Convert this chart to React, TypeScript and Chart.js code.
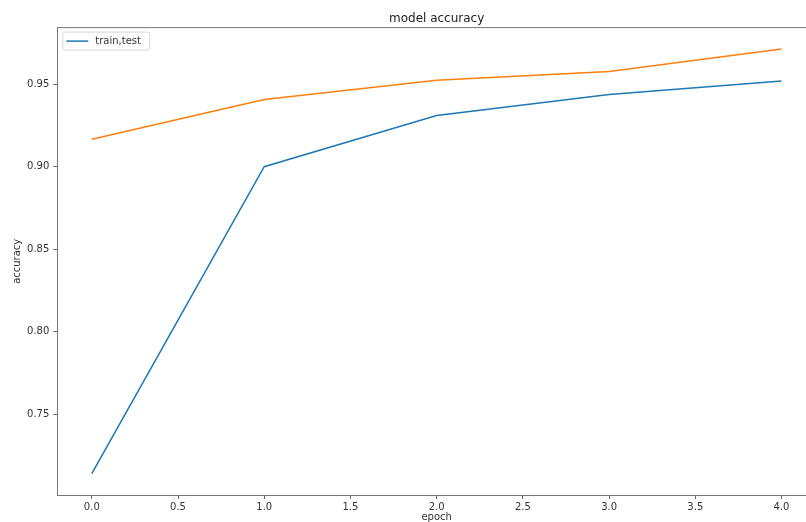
import React, { useEffect, useRef } from "react";
import { Chart, registerables } from "chart.js";

Chart.register(...registerables);

const EPOCHS = [0, 1, 2, 3, 4];
const TRAIN_ACC = [0.714, 0.9, 0.931, 0.9437, 0.952];
const TEST_ACC = [0.9166, 0.9407, 0.9524, 0.9577, 0.9714];
const X_TICKS = [0, 0.5, 1, 1.5, 2, 2.5, 3, 3.5, 4];
const Y_TICKS = [0.75, 0.8, 0.85, 0.9, 0.95];
const TITLE = "model accuracy";
const X_LABEL = "epoch";
const Y_LABEL = "accuracy";
const LEGEND_LABEL = "train,test";

const FONT = "'DejaVu Sans', sans-serif";

export default function App() {
  const ref = useRef<HTMLCanvasElement | null>(null);

  useEffect(() => {
    if (!ref.current) return;

    const framePlugin = {
      id: "frame",
      afterDatasetsDraw(chart: any) {
        const { ctx, chartArea } = chart;
        ctx.save();
        ctx.strokeStyle = "#777";
        ctx.lineWidth = 1;
        ctx.beginPath();
        ctx.moveTo(chartArea.left, chartArea.top);
        ctx.lineTo(chartArea.right, chartArea.top);
        ctx.lineTo(chartArea.right, chartArea.bottom);
        ctx.stroke();

        // legend (matplotlib style, only first entry)
        const ds = chart.data.datasets[0];
        const bx = chartArea.left + 5;
        const by = chartArea.top + 4;
        const bw = 87;
        const bh = 18;
        ctx.fillStyle = "rgba(255,255,255,0.8)";
        ctx.strokeStyle = "#d6d6d6";
        ctx.lineWidth = 1;
        ctx.beginPath();
        (ctx as any).roundRect(bx + 0.5, by + 0.5, bw, bh, 2);
        ctx.fill();
        ctx.stroke();
        const cy = by + bh / 2 + 0.5;
        ctx.strokeStyle = ds.borderColor;
        ctx.lineWidth = 1.5;
        ctx.beginPath();
        ctx.moveTo(bx + 4, cy);
        ctx.lineTo(bx + 26, cy);
        ctx.stroke();
        ctx.fillStyle = "#333";
        ctx.font = `10px ${FONT}`;
        ctx.textBaseline = "middle";
        ctx.textAlign = "left";
        ctx.fillText(ds.label, bx + 33, cy);
        ctx.restore();
      },
    };

    const chart = new Chart(ref.current, {
      type: "line",
      data: {
        labels: EPOCHS,
        datasets: [
          {
            label: LEGEND_LABEL,
            data: EPOCHS.map((x, i) => ({ x, y: TRAIN_ACC[i] })),
            borderColor: "#1f77b4",
            borderWidth: 1.5,
            pointRadius: 0,
            tension: 0,
            fill: false,
          },
          {
            label: "",
            data: EPOCHS.map((x, i) => ({ x, y: TEST_ACC[i] })),
            borderColor: "#ff7f0e",
            borderWidth: 1.5,
            pointRadius: 0,
            tension: 0,
            fill: false,
          },
        ],
      },
      options: {
        animation: false,
        responsive: false,
        devicePixelRatio: 1,
        layout: { padding: { left: 0, right: 4, top: 0, bottom: 0 } },
        plugins: {
          legend: { display: false },
          tooltip: { enabled: false },
          title: {
            display: true,
            text: TITLE,
            fullSize: false,
            color: "#222",
            font: { family: FONT, size: 12, weight: "normal" },
            padding: { top: 12, bottom: 1.2 },
          },
        },
        scales: {
          x: {
            type: "linear",
            min: -0.2,
            max: 4.2,
            afterBuildTicks: (s: any) => {
              s.ticks = X_TICKS.map((v) => ({ value: v }));
            },
            afterFit: (s: any) => {
              s.height = 35;
            },
            grid: {
              display: true,
              drawOnChartArea: false,
              drawTicks: true,
              tickLength: 4,
              color: "#666",
            },
            border: { display: true, color: "#777", width: 1 },
            ticks: {
              color: "#333",
              font: { family: FONT, size: 10 },
              padding: 2,
              maxRotation: 0,
              autoSkip: false,
              callback: (v: any) => Number(v).toFixed(1),
            },
            title: {
              display: true,
              text: X_LABEL,
              color: "#333",
              font: { family: FONT, size: 10 },
              padding: { top: 0, bottom: 7 },
            },
          },
          y: {
            type: "linear",
            min: 0.7011,
            max: 0.9843,
            afterBuildTicks: (s: any) => {
              s.ticks = Y_TICKS.map((v) => ({ value: v }));
            },
            afterFit: (s: any) => {
              s.width = 57.3;
            },
            grid: {
              display: true,
              drawOnChartArea: false,
              drawTicks: true,
              tickLength: 4,
              color: "#666",
            },
            border: { display: true, color: "#777", width: 1 },
            ticks: {
              color: "#333",
              font: { family: FONT, size: 10 },
              padding: 4,
              autoSkip: false,
              callback: (v: any) => Number(v).toFixed(2),
            },
            title: {
              display: true,
              text: Y_LABEL,
              color: "#333",
              font: { family: FONT, size: 10 },
              padding: { top: 11, bottom: 0 },
            },
          },
        },
      },
      plugins: [framePlugin],
    } as any);

    return () => chart.destroy();
  }, []);

  return (
    <div
      style={{
        position: "fixed",
        left: 0,
        top: 0,
        width: 806,
        height: 522,
        overflow: "hidden",
        background: "#fff",
      }}
    >
      <canvas ref={ref} width={820} height={530} style={{ display: "block" }} />
    </div>
  );
}
